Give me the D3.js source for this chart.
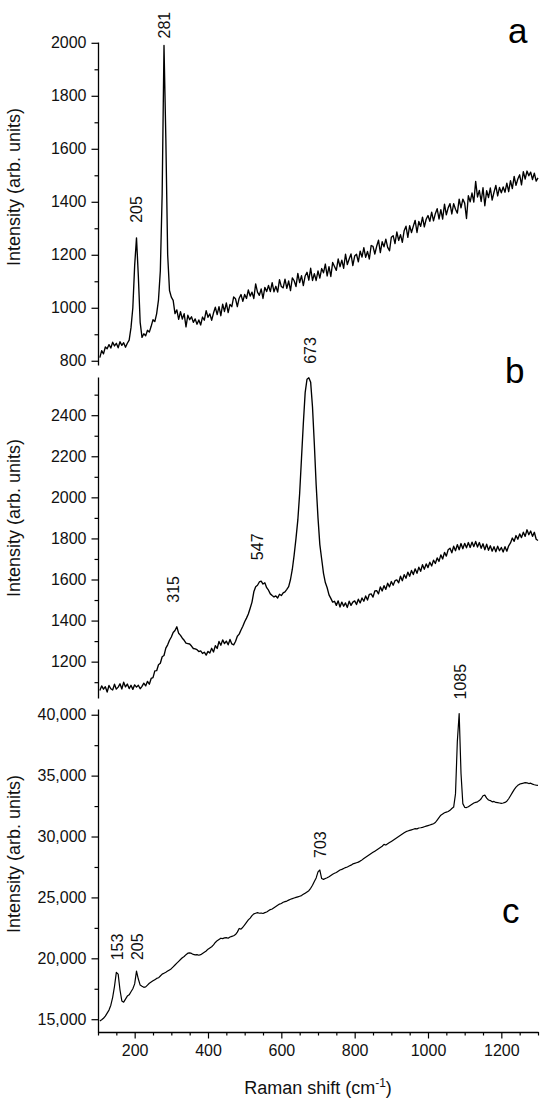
<!DOCTYPE html>
<html>
<head>
<meta charset="utf-8">
<script src="https://cdn.jsdelivr.net/npm/d3@7"></script>
<style>
body{margin:0;background:#fff;}
svg{display:block;font-family:"Liberation Sans",Arial,sans-serif;}
</style>
</head>
<body>
<svg id="mainSvg" width="550" height="1106"></svg>
<script>
// Raman shift (cm-1), one row per 100 cm-1
var shifts = [
  105,110,115,120,125,130,135,140,145,150,155,160,165,170,175,180,185,190,195,200,
  205,210,215,220,225,230,235,240,245,250,255,260,265,270,275,280,285,290,295,300,
  305,310,315,320,325,330,335,340,345,350,355,360,365,370,375,380,385,390,395,400,
  405,410,415,420,425,430,435,440,445,450,455,460,465,470,475,480,485,490,495,500,
  505,510,515,520,525,530,535,540,545,550,555,560,565,570,575,580,585,590,595,600,
  605,610,615,620,625,630,635,640,645,650,655,660,665,670,675,680,685,690,695,700,
  705,710,715,720,725,730,735,740,745,750,755,760,765,770,775,780,785,790,795,800,
  805,810,815,820,825,830,835,840,845,850,855,860,865,870,875,880,885,890,895,900,
  905,910,915,920,925,930,935,940,945,950,955,960,965,970,975,980,985,990,995,1000,
  1005,1010,1015,1020,1025,1030,1035,1040,1045,1050,1055,1060,1065,1070,1075,1080,1085,1090,1095,1100,
  1105,1110,1115,1120,1125,1130,1135,1140,1145,1150,1155,1160,1165,1170,1175,1180,1185,1190,1195,1200,
  1205,1210,1215,1220,1225,1230,1235,1240,1245,1250,1255,1260,1265,1270,1275,1280,1285,1290,1295,1300
];

var intensityA = [
  812,838,826,852,845,861,848,870,856,866,849,872,858,868,851,866,878,925,1000,1160,
  1264,1120,945,888,902,894,915,908,930,955,948,978,1030,1140,1430,1990,1640,1200,1065,1040,
  1028,978,992,956,985,957,978,928,972,955,966,945,958,938,954,935,965,953,989,964,
  977,953,980,1002,974,1004,970,1014,986,1018,982,1013,1004,1041,1034,1004,1036,1050,1024,1050,
  1035,1067,1044,1059,1035,1090,1059,1047,1071,1035,1077,1061,1084,1061,1095,1060,1081,1059,1106,1080,
  1075,1108,1073,1101,1065,1113,1102,1080,1130,1095,1121,1084,1120,1134,1104,1149,1103,1129,1103,1139,
  1112,1148,1132,1165,1120,1155,1118,1171,1156,1141,1184,1155,1180,1149,1202,1163,1184,1203,1159,1195,
  1202,1173,1214,1191,1227,1190,1213,1184,1235,1232,1203,1232,1255,1208,1249,1230,1259,1228,1215,1266,
  1272,1242,1286,1254,1276,1247,1291,1308,1266,1310,1284,1308,1330,1284,1326,1307,1342,1305,1334,1348,
  1326,1361,1328,1355,1374,1335,1370,1335,1391,1351,1377,1393,1354,1393,1372,1357,1410,1377,1410,1395,
  1337,1423,1400,1433,1399,1477,1418,1443,1401,1453,1385,1442,1416,1452,1406,1436,1462,1422,1454,1434,
  1456,1436,1470,1438,1480,1450,1496,1462,1486,1502,1464,1514,1486,1516,1498,1512,1484,1508,1478,1490
];

var intensityB = [
  1060,1082,1066,1078,1052,1084,1068,1062,1090,1066,1076,1092,1067,1100,1077,1091,1069,1085,1065,1087,
  1076,1085,1068,1080,1095,1082,1104,1090,1118,1122,1155,1156,1185,1192,1224,1230,1266,1282,1304,1320,
  1342,1352,1370,1338,1328,1314,1304,1290,1288,1286,1276,1264,1262,1258,1249,1252,1240,1246,1232,1250,
  1242,1265,1247,1278,1264,1298,1280,1306,1288,1300,1282,1308,1286,1282,1298,1324,1334,1354,1372,1394,
  1412,1432,1460,1490,1540,1565,1572,1588,1592,1578,1584,1560,1548,1530,1522,1515,1520,1510,1528,1522,
  1535,1540,1552,1565,1600,1650,1720,1800,1890,2020,2190,2360,2510,2575,2582,2560,2440,2260,2060,1900,
  1770,1700,1630,1585,1560,1525,1508,1490,1494,1474,1496,1466,1490,1470,1486,1464,1494,1474,1490,1496,
  1478,1504,1486,1510,1494,1520,1500,1528,1530,1514,1544,1546,1530,1564,1544,1570,1552,1582,1564,1590,
  1572,1594,1598,1584,1616,1594,1624,1606,1636,1616,1644,1624,1652,1630,1660,1640,1672,1650,1676,1658,
  1684,1666,1694,1678,1705,1688,1720,1700,1732,1714,1745,1752,1730,1762,1740,1770,1745,1775,1750,1776,
  1754,1780,1756,1782,1760,1785,1758,1780,1752,1774,1745,1772,1742,1764,1738,1760,1735,1762,1740,1756,
  1734,1760,1738,1764,1778,1802,1786,1814,1796,1822,1804,1830,1810,1842,1818,1836,1810,1830,1796,1790
];

var intensityC = [
  14850,14950,15080,15250,15500,15750,16150,16800,17700,18850,18700,17400,16500,16400,16650,16900,17000,17250,17500,17900,
  18950,18300,17800,17700,17620,17650,17800,17950,18050,18150,18250,18350,18400,18550,18700,18780,18850,18950,19050,19150,
  19300,19450,19600,19750,19900,20050,20150,20300,20420,20450,20400,20320,20280,20300,20250,20300,20400,20500,20600,20750,
  20850,20950,21100,21300,21450,21550,21650,21620,21680,21700,21650,21750,21800,21850,21950,22150,22450,22400,22550,22750,
  22950,23150,23300,23500,23650,23700,23750,23700,23720,23680,23750,23800,23900,24000,24050,24150,24250,24350,24450,24500,
  24600,24650,24700,24780,24850,24900,24950,25000,25050,25100,25150,25250,25350,25450,25550,25750,26000,26300,26600,27100,
  27250,26550,26480,26550,26620,26700,26800,26900,26980,27050,27150,27250,27300,27380,27450,27500,27580,27650,27750,27800,
  27850,27900,27980,28080,28200,28300,28400,28500,28600,28700,28800,28900,29000,29100,29200,29350,29300,29400,29500,29600,
  29700,29800,29900,30000,30100,30200,30300,30400,30450,30500,30550,30600,30650,30630,30700,30720,30750,30800,30850,30900,
  30950,31000,31050,31150,31350,31550,31750,31850,31950,32000,32050,32150,32300,32420,33500,37800,40100,35200,32700,32400,
  32380,32450,32550,32650,32750,32800,32850,32950,33100,33350,33400,33150,33000,32950,32850,32880,32800,32780,32750,32720,
  32750,32800,32900,33100,33350,33600,33850,34050,34200,34300,34350,34380,34420,34400,34350,34380,34300,34250,34220,34200
];

var ticksX = [200,400,600,800,1000,1200];
var ticksA = [800,1000,1200,1400,1600,1800,2000];
var ticksB = [1200,1400,1600,1800,2000,2200,2400];
var ticksC = [15000,20000,25000,30000,35000,40000];

var peaksA = [205,281];
var peaksB = [315,547,673];
var peaksC = [153,205,703,1085];

var panelNames = ["a","b","c"];
var yTitle = "Intensity (arb. units)";

var svg = d3.select("#mainSvg");
var x = d3.scaleLinear().domain([100,1300]).range([98,538]);

// layout of the three stacked panels
var panels = [
  {values:intensityA, ticks:ticksA, minor:d3.range(900,2000,200), domain:[784,2003], range:[365,42],
   peaks:peaksA, dx:[5.5,5.5], gap:[15,7], fmt:d3.format("d"), titleY:187, letter:[508,43], width:1.35},
  {values:intensityB, ticks:ticksB, minor:d3.range(1100,2586,200), domain:[1023,2586], range:[698,377],
   peaks:peaksB, dx:[2,1,7.5], gap:[24,21,14], fmt:d3.format("d"), titleY:518, letter:[505,383], width:1.35},
  {values:intensityC, ticks:ticksC, minor:d3.range(17500,40470,5000), domain:[13950,40470], range:[1032,709],
   peaks:peaksC, dx:[6,6,6.5,6.5], gap:[12,11,12,14], fmt:d3.format(","), titleY:854, letter:[502,923], width:1.2}
];

function peakValue(values, p){
  var best = -Infinity;
  for (var i = 0; i < shifts.length; i++){
    if (Math.abs(shifts[i]-p) <= 5 && values[i] > best) best = values[i];
  }
  return best;
}

function styleAxis(g){
  g.selectAll("path").attr("stroke","#000").attr("stroke-width",1.3);
  g.selectAll("line").attr("stroke","#000").attr("stroke-width",1.2);
  g.selectAll("text").attr("fill","#111").attr("font-size",16)
    .attr("font-family","'Liberation Sans',Arial,sans-serif");
}

panels.forEach(function(p, k){
  var y = d3.scaleLinear().domain(p.domain).range(p.range);

  var minorAxis = svg.append("g")
    .attr("transform","translate(" + x.range()[0] + ",0)")
    .call(d3.axisLeft(y).tickValues(p.minor).tickSize(3.5).tickFormat(""));
  minorAxis.select("path").remove();
  styleAxis(minorAxis);

  var axis = svg.append("g")
    .attr("transform","translate(" + x.range()[0] + ",0)")
    .call(d3.axisLeft(y).tickValues(p.ticks).tickSize(6.5).tickSizeOuter(0).tickPadding(5).tickFormat(p.fmt));
  styleAxis(axis);

  var line = d3.line()
    .x(function(d,i){return x(shifts[i]);})
    .y(function(d){return y(d);});

  svg.append("path")
    .datum(p.values)
    .attr("d", line)
    .attr("fill","none")
    .attr("stroke","#000")
    .attr("stroke-width",p.width)
    .attr("stroke-linejoin","round");

  svg.selectAll(".peak" + k)
    .data(p.peaks)
    .enter().append("text")
      .attr("class","peak" + k)
      .attr("transform", function(d,i){
        var px = x(d) + p.dx[i];
        var py = y(peakValue(p.values, d)) - p.gap[i];
        return "translate(" + px + "," + py + ") rotate(-90)";
      })
      .attr("font-size",16)
      .attr("fill","#111")
      .text(function(d){return d;});

  svg.append("text")
    .attr("transform","translate(20," + p.titleY + ") rotate(-90)")
    .attr("text-anchor","middle")
    .attr("font-size",18)
    .attr("fill","#111")
    .text(yTitle);

  svg.append("text")
    .attr("x", p.letter[0])
    .attr("y", p.letter[1])
    .attr("font-size",35)
    .attr("fill","#000")
    .text(panelNames[k]);
});

// shared x axis under panel c
var xMinor = d3.range(100,1301,50).filter(function(v){return ticksX.indexOf(v) < 0;});
var xMinorAxis = svg.append("g")
  .attr("transform","translate(0,1032)")
  .call(d3.axisBottom(x).tickValues(xMinor).tickSize(3.5).tickFormat(""));
xMinorAxis.select("path").remove();
styleAxis(xMinorAxis);

var xAxis = svg.append("g")
  .attr("transform","translate(0,1032)")
  .call(d3.axisBottom(x).tickValues(ticksX).tickSize(6.5).tickSizeOuter(0).tickPadding(6).tickFormat(d3.format("d")));
styleAxis(xAxis);

var xTitle = svg.append("text")
  .attr("x",318)
  .attr("y",1094)
  .attr("text-anchor","middle")
  .attr("font-size",18)
  .attr("fill","#111");
xTitle.append("tspan").text("Raman shift (cm");
xTitle.append("tspan").attr("dy",-7).attr("font-size",12).text("-1");
xTitle.append("tspan").attr("dy",7).text(")");
</script>
</body>
</html>
